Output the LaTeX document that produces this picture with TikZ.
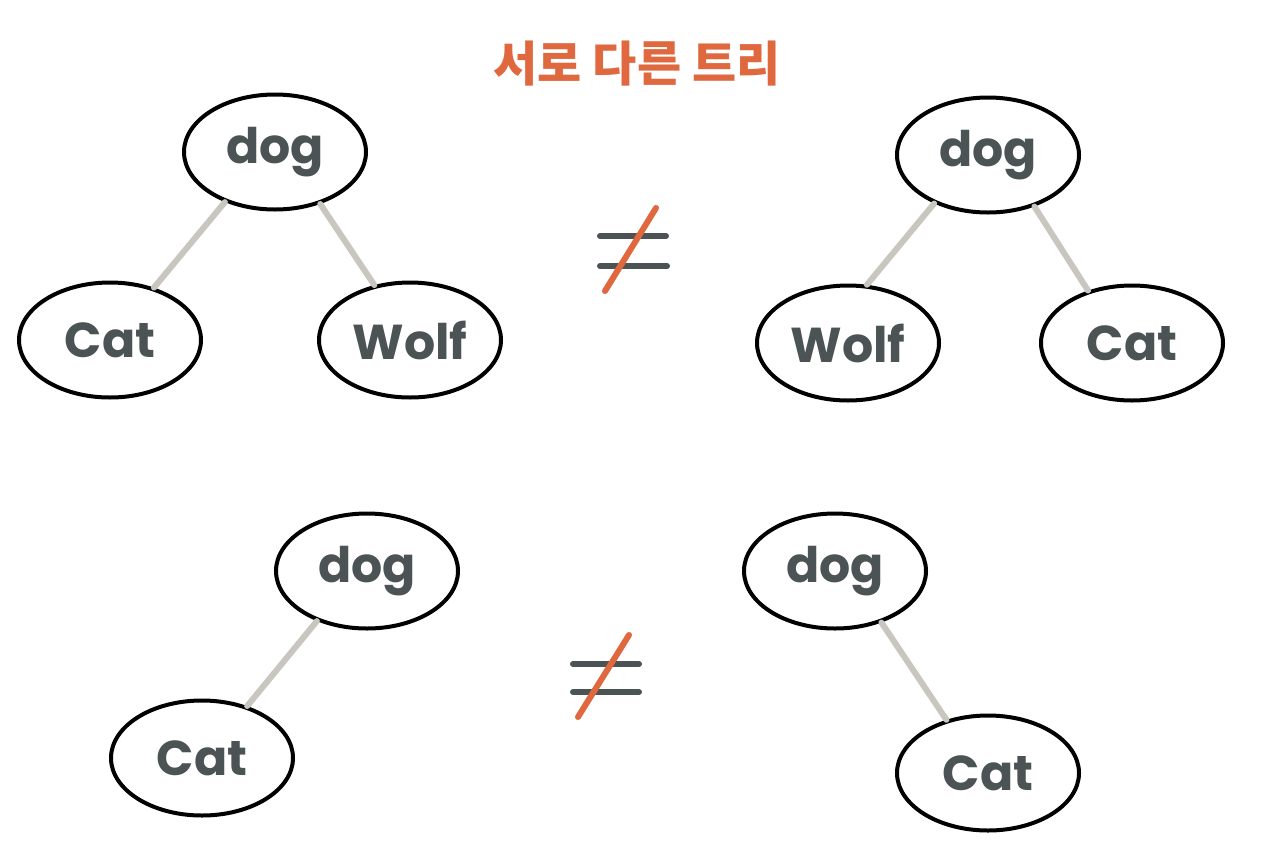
\documentclass[tikz,border=0pt]{standalone}
\usepackage{fontspec}
\setmainfont{Poppins}
\newfontfamily\krfont{Noto Sans CJK KR}
\usetikzlibrary{shapes.geometric}
\definecolor{txt}{HTML}{4B5354}
\definecolor{org}{HTML}{E0683F}
\definecolor{edge}{HTML}{C9C6C0}
\tikzset{
  tnode/.style={ellipse, draw=black, line width=4pt, fill=white, minimum width=182pt, minimum height=115pt, inner sep=0pt, text=txt, font=\bfseries\fontsize{49}{49}\selectfont},
  tedge/.style={draw=edge, line width=6pt, line cap=round},
  eqline/.style={draw=txt, line width=6pt, line cap=round},
  slash/.style={draw=org, line width=6pt, line cap=round}
}
\begin{document}
\begin{tikzpicture}[x=1pt,y=-1pt]
\useasboundingbox[fill=white] (0,0) rectangle (1280,844);
\node[text=org, font=\krfont\bfseries\fontsize{48}{48}\selectfont] (title) at (637,64) {서로 다른 트리};
% top left
\node[tnode] (d1) at (275,152) {dog};
\node[tnode] (c1) at (110,340) {Cat};
\node[tnode] (w1) at (410,340) {Wolf};
% top right
\node[tnode] (d2) at (988,155) {dog};
\node[tnode] (w2) at (848,343) {Wolf};
\node[tnode] (c2) at (1132,343) {Cat};
% bottom left
\node[tnode] (d3) at (367,571) {dog};
\node[tnode] (c3) at (202,758) {Cat};
% bottom right
\node[tnode] (d4) at (835,571) {dog};
\node[tnode] (c4) at (988,773) {Cat};
% edges
\draw[tedge] (d1.-135) -- (c1.50);
\draw[tedge] (d1.-49) -- (w1.123);
\draw[tedge] (d2.-138) -- (w2.72);
\draw[tedge] (d2.-48) -- (c2.130);
\draw[tedge] (d3.-135) -- (c3.49);
\draw[tedge] (d4.-48) -- (c4.128);
% not-equal signs
\coordinate (n1a) at (600,236); \coordinate (n1b) at (666,236);
\coordinate (n1c) at (600,266); \coordinate (n1d) at (667,266);
\coordinate (n1e) at (656,208); \coordinate (n1f) at (605,291);
\draw[eqline] (n1a) -- (n1b);
\draw[eqline] (n1c) -- (n1d);
\draw[slash] (n1e) -- (n1f);
\coordinate (n2a) at (573,664); \coordinate (n2b) at (639,664);
\coordinate (n2c) at (573,692); \coordinate (n2d) at (639,692);
\coordinate (n2e) at (629,635); \coordinate (n2f) at (578,717);
\draw[eqline] (n2a) -- (n2b);
\draw[eqline] (n2c) -- (n2d);
\draw[slash] (n2e) -- (n2f);
\end{tikzpicture}
\end{document}
